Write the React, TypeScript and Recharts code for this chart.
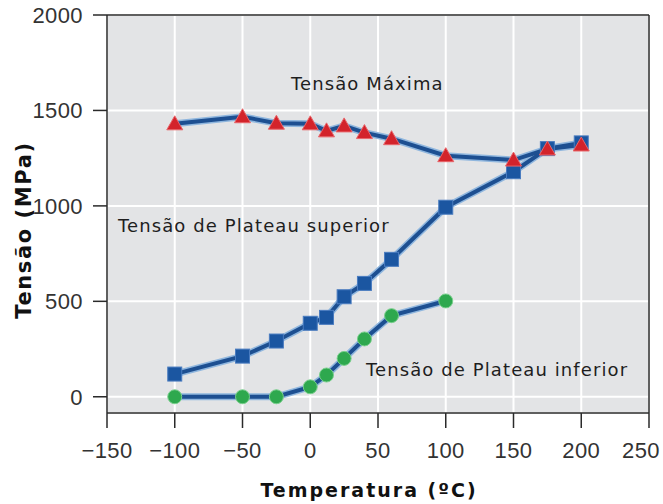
import { LineChart, Line, XAxis, YAxis, CartesianGrid, ReferenceLine } from "recharts";

const temperaturas = [-100, -50, -25, 0, 12, 25, 40, 60, 100, 150, 175, 200];
const tensaoMaxima = [1430, 1467, 1433, 1430, 1393, 1419, 1384, 1352, 1263, 1240, 1298, 1319];
const plateauSuperior = [119, 213, 292, 385, 416, 524, 594, 720, 993, 1179, 1300, 1330];
const plateauInferior = [0, 0, 0, 52, 114, 201, 303, 425, 502, null, null, null];

const xTicks = [-150, -100, -50, 0, 50, 100, 150, 200, 250];
const yTicks = [0, 500, 1000, 1500, 2000];

const data = temperaturas.map((t, i) => ({
  t,
  maxima: tensaoMaxima[i],
  superior: plateauSuperior[i],
  inferior: plateauInferior[i],
}));

const LINE = "#1d4f91";
const HALO = "#8fb6de";
const AXIS = "#2a2a2a";
const tickFont = { fill: "#333", fontSize: 22, fontFamily: "Liberation Sans, Arial, sans-serif", letterSpacing: 0.4 };
const minus = (v: number) => String(v).replace("-", "\u2212");

// last label is pulled inward so it stays inside the picture
const renderXTick = (p: any) => {
  const v = p.payload.value;
  const last = v === xTicks[xTicks.length - 1];
  return (
    <text key={`xt-${v}`} x={last ? p.x + 11 : p.x} y={p.y + 28} textAnchor={last ? "end" : "middle"} style={tickFont}>
      {minus(v)}
    </text>
  );
};

const Triangle = (p: any) => {
  if (p.cy == null || p.cx == null) return <g key={p.key} />;
  const { cx, cy } = p;
  return (
    <path
      key={p.key}
      d={`M${cx},${cy - 8} L${cx + 8},${cy + 6} L${cx - 8},${cy + 6} Z`}
      fill="#d3232b"
      stroke="#e8656a"
      strokeWidth={1}
    />
  );
};

const Square = (p: any) => {
  if (p.cy == null || p.cx == null) return <g key={p.key} />;
  return <rect key={p.key} x={p.cx - 7} y={p.cy - 7} width={14} height={14} fill="#1b56a1" stroke="#4a7cc0" strokeWidth={1} />;
};

const Circle = (p: any) => {
  if (p.cy == null || p.cx == null) return <g key={p.key} />;
  return <circle key={p.key} cx={p.cx} cy={p.cy} r={7} fill="#2ea84e" stroke="#79cf8c" strokeWidth={1} />;
};

const note = { fontFamily: "DejaVu Sans, Verdana, sans-serif", fontSize: 18, letterSpacing: 1.1, fill: "#1e1e1e" };
const title = { fontFamily: "DejaVu Sans, Verdana, sans-serif", fontWeight: 700, fill: "#111" };

export default function App() {
  return (
    <div style={{ position: "absolute", left: 0, top: 0, width: 663, height: 504, background: "#fff" }}>
      <LineChart width={663} height={504} data={data} margin={{ top: 15, right: 14, left: 0, bottom: 0 }}>
        <CartesianGrid fill="#e3e4e6" stroke="#ffffff" strokeWidth={2} />
        <XAxis
          dataKey="t"
          type="number"
          domain={[-150, 250]}
          ticks={xTicks}
          height={91}
          tickSize={15}
          tick={renderXTick}
          axisLine={{ stroke: AXIS, strokeWidth: 1.5 }}
          tickLine={{ stroke: AXIS, strokeWidth: 1.5 }}
          allowDataOverflow
        />
        <YAxis
          type="number"
          domain={[-85, 2000]}
          ticks={yTicks}
          width={107}
          tickSize={14}
          tickMargin={10}
          tick={tickFont}
          axisLine={{ stroke: AXIS, strokeWidth: 1.5 }}
          tickLine={{ stroke: AXIS, strokeWidth: 1.5 }}
          allowDataOverflow
        />
        <ReferenceLine y={2000} stroke={AXIS} strokeWidth={1.5} />
        <ReferenceLine x={250} stroke={AXIS} strokeWidth={1.5} />

        <Line dataKey="inferior" stroke={HALO} strokeWidth={7} dot={false} isAnimationActive={false} legendType="none" />
        <Line dataKey="superior" stroke={HALO} strokeWidth={7} dot={false} isAnimationActive={false} legendType="none" />
        <Line dataKey="maxima" stroke={HALO} strokeWidth={7} dot={false} isAnimationActive={false} legendType="none" />
        <Line dataKey="inferior" name="Tensão de Plateau inferior" stroke={LINE} strokeWidth={4} dot={Circle} isAnimationActive={false} />
        <Line dataKey="superior" name="Tensão de Plateau superior" stroke={LINE} strokeWidth={4} dot={Square} isAnimationActive={false} />
        <Line dataKey="maxima" name="Tensão Máxima" stroke={LINE} strokeWidth={4} dot={Triangle} isAnimationActive={false} />
      </LineChart>
      <svg width={663} height={504} style={{ position: "absolute", left: 0, top: 0, pointerEvents: "none" }}>
        <text x={291} y={90} style={note}>Tensão Máxima</text>
        <text x={118} y={232} style={note}>Tensão de Plateau superior</text>
        <text x={366} y={376} style={note}>Tensão de Plateau inferior</text>
        <text x={369} y={497} textAnchor="middle" style={{ ...title, fontSize: 19, letterSpacing: 2 }}>
          Temperatura (ºC)
        </text>
        <text
          x={31}
          y={230}
          textAnchor="middle"
          transform="rotate(-90 31 230)"
          style={{ ...title, fontSize: 21, letterSpacing: 1.6 }}
        >
          Tensão (MPa)
        </text>
      </svg>
    </div>
  );
}
